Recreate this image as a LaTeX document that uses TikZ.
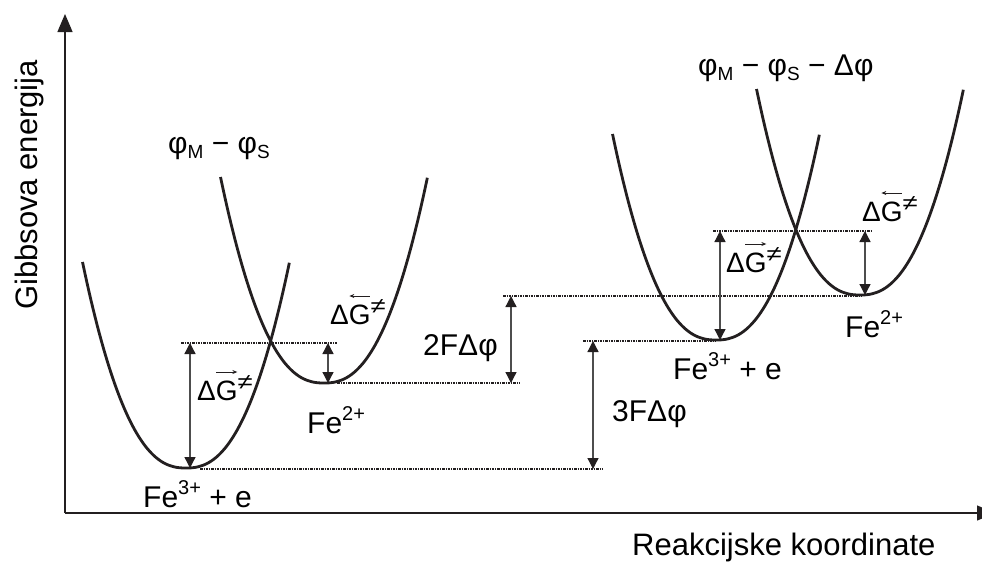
\documentclass[tikz,border=0pt]{standalone}
\usepackage{fontspec}
\setmainfont{Liberation Sans}
\usetikzlibrary{arrows.meta}
\definecolor{ink}{HTML}{231F20}
\definecolor{shaft}{HTML}{4D4D4D}
\newcommand{\sps}[1]{\raisebox{13pt}{\fontsize{20}{20}\selectfont #1}}
\newcommand{\sbs}[1]{\raisebox{-5pt}{\fontsize{19}{19}\selectfont #1}}
\newcommand{\dG}[1]{Δ\makebox[0pt][l]{\raisebox{28pt}{\tikz[baseline=0pt]\draw[ink,line width=0.9pt,#1] (0pt,0pt) -- (21pt,0pt);}}G\raisebox{11pt}{\fontsize{22}{22}\selectfont\scalebox{1.25}[1]{≠}}}
\begin{document}
\begin{tikzpicture}[x=1pt,y=-1pt,
  lev/.style={ink,line width=1.3pt,dash pattern=on 2.5pt off 1pt on 1pt off 1pt},
  dbl/.style={shaft,line width=1.3pt,{Triangle[length=11pt,width=11pt,color=ink]}-{Triangle[length=11pt,width=11pt,color=ink]}},
  curve/.style={ink,line width=2.8pt},
  axis/.style={ink,line width=1.3pt,-{Triangle[length=18pt,width=15pt]}},
  lbl/.style={anchor=base west,inner sep=0pt,font=\fontsize{30}{36}\selectfont},
  glbl/.style={anchor=base west,inner sep=0pt,font=\fontsize{28}{34}\selectfont},
  plbl/.style={anchor=base west,inner sep=0pt,font=\fontsize{30}{36}\selectfont},
  axlbl/.style={anchor=base west,inner sep=0pt,font=\fontsize{31}{37}\selectfont}]
\useasboundingbox (0,0) rectangle (982,562);
% axes
\coordinate (O) at (65,513);
\coordinate (Ytip) at (65,14);
\coordinate (Xtip) at (995,513);
\draw[axis] (O) -- (Ytip);
\draw[axis] (O) -- (Xtip);
% dotted levels
\coordinate (l1a) at (181,343); \coordinate (l1b) at (337,343);
\coordinate (l2a) at (200,469); \coordinate (l2b) at (603,469);
\coordinate (l3a) at (337,383); \coordinate (l3b) at (520,383);
\coordinate (l4a) at (503,296); \coordinate (l4b) at (862,296);
\coordinate (l5a) at (583,341); \coordinate (l5b) at (716,341);
\coordinate (l6a) at (713,231); \coordinate (l6b) at (872,231);
\draw[lev] (l1a) -- (l1b);
\draw[lev] (l2a) -- (l2b);
\draw[lev] (l3a) -- (l3b);
\draw[lev] (l4a) -- (l4b);
\draw[lev] (l5a) -- (l5b);
\draw[lev] (l6a) -- (l6b);
% curves
\foreach \vx/\vy in {186/468, 324/383, 716/340, 860/295}
  \draw[curve] plot[domain=-1:1, samples=100] ({\vx+103.5*\x}, {\vy-206*abs(\x)^2.4});
% double arrows
\coordinate (a1t) at (190,343); \coordinate (a1b) at (190,468);
\coordinate (a2t) at (328,343); \coordinate (a2b) at (328,383);
\coordinate (a3t) at (511,296); \coordinate (a3b) at (511,383);
\coordinate (a4t) at (593,341); \coordinate (a4b) at (593,469);
\coordinate (a5t) at (720,231); \coordinate (a5b) at (720,340);
\coordinate (a6t) at (865,231); \coordinate (a6b) at (865,295);
\draw[dbl] (a1t) -- (a1b);
\draw[dbl] (a2t) -- (a2b);
\draw[dbl] (a3t) -- (a3b);
\draw[dbl] (a4t) -- (a4b);
\draw[dbl] (a5t) -- (a5b);
\draw[dbl] (a6t) -- (a6b);
% labels
\node[lbl] (fe3L) at (143,507) {Fe\sps{3+} + e};
\node[lbl] (fe2L) at (307,433) {Fe\sps{2+}};
\node[lbl] (fe3R) at (673,379) {Fe\sps{3+} + e};
\node[lbl] (fe2R) at (845,337) {Fe\sps{2+}};
\node[glbl] (dgfL) at (197,400) {\dG{-{Stealth[length=5pt,width=4pt]}}};
\node[glbl] (dgbL) at (330,324) {\dG{{Stealth[length=5pt,width=4pt]}-}};
\node[glbl] (dgfR) at (726,272) {\dG{-{Stealth[length=5pt,width=4pt]}}};
\node[glbl] (dgbR) at (862,221) {\dG{{Stealth[length=5pt,width=4pt]}-}};
\node[lbl] (f2) at (423,355) {2FΔφ};
\node[lbl] (f3) at (612,421) {3FΔφ};
\node[plbl] (phiL) at (168,153) {φ\sbs{M} − φ\sbs{S}};
\node[plbl] (phiR) at (698,75) {φ\sbs{M} − φ\sbs{S} − Δφ};
\node[axlbl,rotate=90] (ylab) at (37,310) {Gibbsova energija};
\node[axlbl] (xlab) at (632,555) {Reakcijske koordinate};
\end{tikzpicture}
\end{document}
